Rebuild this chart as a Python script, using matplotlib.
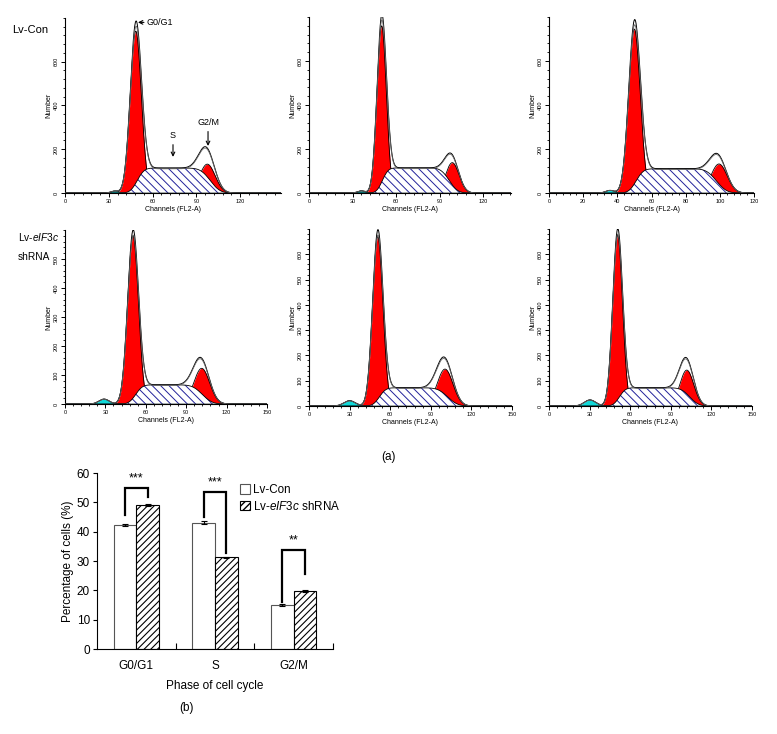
import math
import numpy as np
import matplotlib
matplotlib.use('Agg')
import matplotlib.pyplot as plt
from matplotlib.patches import Patch
from matplotlib.ticker import MultipleLocator

plt.rcParams['font.family'] = ['Liberation Sans', 'DejaVu Sans']
plt.rcParams['mathtext.fontset'] = 'custom'
plt.rcParams['mathtext.rm'] = 'Liberation Sans'
plt.rcParams['mathtext.it'] = 'Liberation Sans:italic'

# --- flow cytometry fits (ModFit components) ---
# panel order: Lv-Con x3 (top row), Lv-eIF3c shRNA x3 (bottom row)
g1_center = [48.5, 50.0, 50.0, 50.5, 50.8, 50.7]
g1_height = [740, 760, 745, 580, 670, 675]
g1_sigma = [3.8, 3.2, 3.4, 4.0, 3.8, 3.6]
g2_center = [97.5, 98.6, 99.5, 101.5, 100.5, 101.8]
g2_height = [132, 138, 132, 123, 146, 142]
g2_sigma = [5.3, 4.6, 4.7, 5.8, 5.8, 5.1]
s_height = [114, 114, 110, 66, 72, 72]
s_lo = [49.5, 50.5, 51.0, 52.5, 52.0, 52.0]
s_hi = [99.5, 96.5, 98.0, 102.0, 102.5, 104.0]
deb_center = [34.0, 36.0, 35.7, 29.0, 30.0, 30.3]
deb_height = [9, 10, 12, 17, 21, 24]
deb_sigma = [2.5, 2.5, 2.5, 3.8, 4.2, 4.2]

x_max = [148, 139, 120, 150, 150, 150]
x_step = [30, 30, 20, 30, 30, 30]
y_max = [800, 800, 800, 600, 700, 700]
y_step = [200, 200, 200, 100, 100, 100]

# --- cell cycle distribution (b) ---
phases = ['G0/G1', 'S', 'G2/M']
con_mean = [42.3, 43.0, 15.0]
con_err = [0.4, 0.5, 0.2]
sh_mean = [49.2, 31.3, 19.8]
sh_err = [0.3, 0.2, 0.4]
sig_marks = ['***', '***', '**']
sig_top = [55.0, 53.6, 33.8]
leg_con = [45.7, 45.0, 16.0]
leg_sh = [51.9, 32.8, 25.6]

W, H = 777, 734
fig = plt.figure(figsize=(W / 100, H / 100), dpi=100)


def rect(left, top, right, bottom):
    return [left / W, 1 - bottom / H, (right - left) / W, (bottom - top) / H]


hist_rects = [rect(65, 18, 281, 193), rect(309, 17, 511, 193), rect(549, 17, 754, 193),
              rect(65, 230, 267, 404), rect(309, 229, 512, 406), rect(549, 229, 752, 406)]

erf = np.vectorize(math.erf)
ch = np.arange(0, 150.01, 0.25)

for i, r in enumerate(hist_rects):
    ax = fig.add_axes(r)
    g1 = g1_height[i] * np.exp(-(ch - g1_center[i]) ** 2 / (2 * g1_sigma[i] ** 2))
    g2 = g2_height[i] * np.exp(-(ch - g2_center[i]) ** 2 / (2 * g2_sigma[i] ** 2))
    s = s_height[i] * 0.5 * (erf((ch - s_lo[i]) / (g1_sigma[i] * 1.414))
                             - erf((ch - s_hi[i]) / (g2_sigma[i] * 1.414)))
    deb = deb_height[i] * np.exp(-(ch - deb_center[i]) ** 2 / (2 * deb_sigma[i] ** 2))
    total = g1 + g2 + s + deb

    for comp in (g1, g2):
        ax.fill_between(ch, 0, comp, color='#ff0000', lw=0, zorder=1)
        ax.plot(ch, comp, color='black', lw=0.6, zorder=1.5)
    with plt.rc_context({'hatch.linewidth': 0.7}):
        ax.fill_between(ch, 0, s, facecolor='white', edgecolor='#22229a',
                        hatch='\\\\\\\\', lw=0, zorder=2)
    ax.plot(ch, s, color='black', lw=0.6, zorder=2.5)
    ax.fill_between(ch, 0, deb, color='#10d8d8', lw=0, zorder=2)
    ax.plot(ch, deb, color='#203030', lw=0.5, zorder=2.5)
    ax.plot(ch, total, color='black', lw=0.7, zorder=3)
    ax.plot(ch, total * 0.97, color='#666666', lw=0.6, zorder=3)

    ax.set_xlim(0, x_max[i])
    ax.set_ylim(0, y_max[i])
    ax.xaxis.set_minor_locator(MultipleLocator(x_step[i] / 5))
    ax.yaxis.set_minor_locator(MultipleLocator(y_step[i] / 5))
    ax.set_xticks(np.arange(0, x_max[i] + 0.1, x_step[i]))
    ax.set_yticks(np.arange(0, y_max[i], y_step[i]))
    for sp in ('top', 'right'):
        ax.spines[sp].set_visible(False)
    for sp in ('left', 'bottom'):
        ax.spines[sp].set_linewidth(0.8)
    ax.tick_params(which='major', direction='out', length=3, width=0.7, labelsize=4, pad=1.5)
    ax.tick_params(which='minor', direction='out', length=1.5, width=0.6)
    plt.setp(ax.get_yticklabels(), rotation=90, va='center')
    ax.set_xlabel('Channels (FL2-A)', fontsize=5, labelpad=1)
    ax.set_ylabel('Number', fontsize=5, labelpad=1)

    if i == 0:
        ax.annotate('G0/G1', xy=(g1_center[i] + 1.5, 780), xytext=(56, 780),
                    fontsize=6.5, va='center', ha='left',
                    arrowprops=dict(arrowstyle='->', lw=0.8, color='black', shrinkA=0, shrinkB=0))
        ax.annotate('S', xy=(74, 165), xytext=(74, 240), fontsize=6.5, ha='center', va='bottom',
                    arrowprops=dict(arrowstyle='->', lw=0.8, color='black', shrinkA=1, shrinkB=0))
        ax.annotate('G2/M', xy=(98, 215), xytext=(98, 300), fontsize=6.5, ha='center', va='bottom',
                    arrowprops=dict(arrowstyle='->', lw=0.8, color='black', shrinkA=1, shrinkB=0))

fig.text(12 / W, 1 - 30 / H, 'Lv-Con', fontsize=8, va='center')
fig.text(18 / W, 1 - 237 / H, r'Lv-$\it{eIF3c}$', fontsize=7.3, va='center')
fig.text(18 / W, 1 - 257 / H, 'shRNA', fontsize=7.3, va='center')
fig.text(388 / W, 1 - 457 / H, '(a)', fontsize=8.5, ha='center', va='center')
fig.text(187 / W, 1 - 708 / H, '(b)', fontsize=8.5, ha='center', va='center')

# --- bar chart ---
bx = fig.add_axes(rect(97, 473, 333, 649))
pos = np.arange(len(phases))
w = 0.29
bx.bar(pos - w / 2, con_mean, w, yerr=con_err, color='white', edgecolor='#555555', lw=0.8,
       error_kw=dict(lw=0.8, capsize=2, capthick=0.8, ecolor='black'), label='Lv-Con')
with plt.rc_context({'hatch.linewidth': 0.8}):
    bx.bar(pos + w / 2, sh_mean, w, yerr=sh_err, color='white', edgecolor='black', lw=0.8,
           hatch='/////', error_kw=dict(lw=0.8, capsize=2, capthick=0.8, ecolor='black'),
           label=r'Lv-$\it{eIF3c}$ shRNA')

for k in range(len(phases)):
    xl, xr = pos[k] - w / 2, pos[k] + w / 2
    bx.plot([xl, xl, xr, xr], [leg_con[k], sig_top[k], sig_top[k], leg_sh[k]],
            color='black', lw=1.6, solid_joinstyle='miter')
    bx.text(pos[k], sig_top[k] + 1.0, sig_marks[k], ha='center', va='bottom', fontsize=9)

bx.set_xlim(-0.5, 2.5)
bx.set_ylim(0, 60)
bx.set_yticks(range(0, 61, 10))
bx.set_xticks(pos)
bx.set_xticklabels(phases)
bx.set_xticks([0.5, 1.5, 2.5], minor=True)
for sp in ('top', 'right'):
    bx.spines[sp].set_visible(False)
bx.tick_params(axis='x', which='major', length=0, pad=8, labelsize=8.5)
bx.tick_params(axis='x', which='minor', direction='in', length=4, width=0.8)
bx.tick_params(axis='y', direction='out', length=3, width=0.8, labelsize=8.5, pad=2)
bx.set_ylabel('Percentage of cells (%)', fontsize=8.5, labelpad=2)
bx.set_xlabel('Phase of cell cycle', fontsize=8.5, labelpad=6)

handles = [Patch(facecolor='white', edgecolor='#555555', lw=0.8),
           Patch(facecolor='white', edgecolor='black', lw=0.8, hatch='/////')]
fig.legend(handles, ['Lv-Con', r'Lv-$\it{eIF3c}$ shRNA'], loc='upper left',
           bbox_to_anchor=(240 / W, 1 - 484 / H), frameon=False, fontsize=8.4,
           handlelength=0.85, handleheight=0.85, handletextpad=0.3, labelspacing=0.3,
           borderpad=0, borderaxespad=0)

fig.savefig('out.png', dpi=100)
